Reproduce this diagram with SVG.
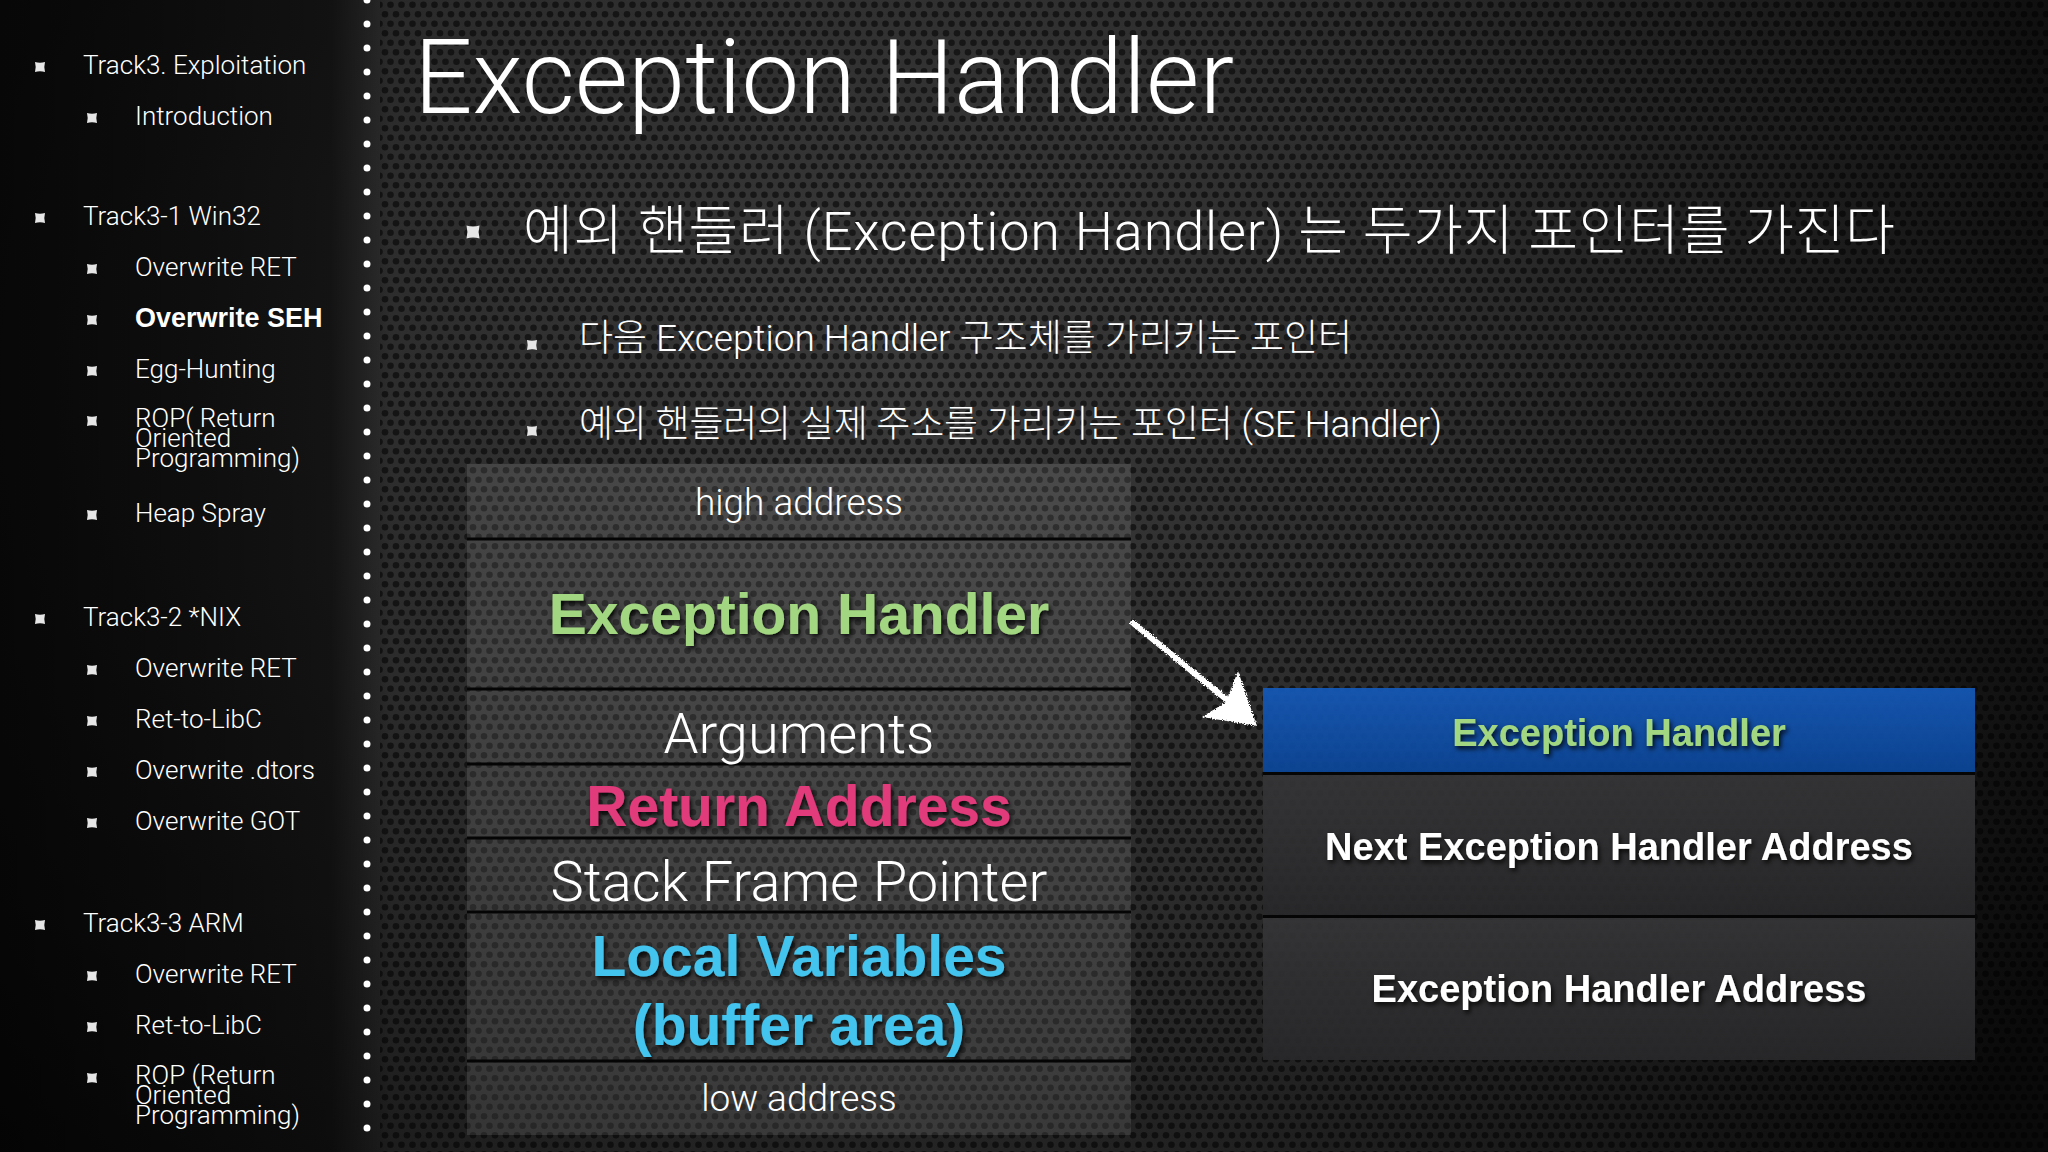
<svg xmlns="http://www.w3.org/2000/svg" width="2048" height="1152" viewBox="0 0 2048 1152">
  <defs>
    <style>
      .lt { font-family: Roboto, "Liberation Sans", "Noto Sans CJK KR", sans-serif; font-weight: 300; fill: #ffffff; }
      .bd { font-family: "Liberation Sans", Arial, "Noto Sans CJK KR", sans-serif; font-weight: 700; }
      .side { font-size: 26px; }
      .sideb { font-size: 27px; fill: #ffffff; }
      .mid { text-anchor: middle; }
      .sep { stroke: #050505; stroke-width: 3; }
      .bul { fill: #e6e6e6; }
    </style>
    <radialGradient id="bgGrad" cx="900" cy="380" r="1300" gradientUnits="userSpaceOnUse">
      <stop offset="0" stop-color="#3a3a3a"/>
      <stop offset="0.45" stop-color="#2b2b2b"/>
      <stop offset="0.8" stop-color="#181818"/>
      <stop offset="1" stop-color="#0a0a0a"/>
    </radialGradient>
    <linearGradient id="sideGrad" x1="0" y1="0" x2="1" y2="0">
      <stop offset="0" stop-color="#000" stop-opacity="0.75"/>
      <stop offset="0.85" stop-color="#000" stop-opacity="0.55"/>
      <stop offset="1" stop-color="#000" stop-opacity="0"/>
    </linearGradient>
    <pattern id="holes" width="11" height="19" patternUnits="userSpaceOnUse">
      <circle cx="5.5" cy="4.75" r="3.3" fill="#000" fill-opacity="0.55"/>
      <circle cx="0" cy="14.25" r="3.3" fill="#000" fill-opacity="0.55"/>
      <circle cx="11" cy="14.25" r="3.3" fill="#000" fill-opacity="0.55"/>
    </pattern>
    <linearGradient id="blueGrad" x1="0" y1="0" x2="0" y2="1">
      <stop offset="0" stop-color="#1559b8"/>
      <stop offset="1" stop-color="#0b4699"/>
    </linearGradient>
    <linearGradient id="darkGrad" x1="0" y1="0" x2="0" y2="1">
      <stop offset="0" stop-color="#353537"/>
      <stop offset="1" stop-color="#28282a"/>
    </linearGradient>
    <filter id="shadow" x="-10%" y="-30%" width="120%" height="160%">
      <feDropShadow dx="2" dy="3" stdDeviation="2.5" flood-color="#000" flood-opacity="0.85"/>
    </filter>
    <filter id="chalk" x="-10%" y="-10%" width="120%" height="120%">
      <feTurbulence type="fractalNoise" baseFrequency="0.9" numOctaves="2" seed="3" result="n"/>
      <feDisplacementMap in="SourceGraphic" in2="n" scale="4" xChannelSelector="R" yChannelSelector="G"/>
    </filter>
    <path id="bullet" d="M-1,-1 Q0,-0.72 1,-1 Q0.72,0 1,1 Q0,0.72 -1,1 Q-0.72,0 -1,-1 Z"/>
  </defs>

  <!-- background -->
  <rect x="0" y="0" width="2048" height="1152" fill="url(#bgGrad)"/>
  <rect x="380" y="0" width="1668" height="1152" fill="url(#holes)"/>
  <rect x="0" y="0" width="390" height="1152" fill="url(#sideGrad)"/>
  <line x1="367" y1="0" x2="367" y2="1152" stroke="#ffffff" stroke-width="7" stroke-linecap="round" stroke-dasharray="0 24"/>

  <!-- sidebar -->
  <g id="sidebar">
    <g id="side-track3"><use href="#bullet" class="bul" transform="translate(40,67) scale(5)"/><text class="lt side" x="83" y="74">Track3. Exploitation</text></g>
    <g id="side-intro"><use href="#bullet" class="bul" transform="translate(92,118) scale(5)"/><text class="lt side" x="135" y="125">Introduction</text></g>
    <g id="side-win32"><use href="#bullet" class="bul" transform="translate(40,218) scale(5)"/><text class="lt side" x="83" y="225">Track3-1 Win32</text></g>
    <g id="side-w-ret"><use href="#bullet" class="bul" transform="translate(92,269) scale(5)"/><text class="lt side" x="135" y="276">Overwrite RET</text></g>
    <g id="side-w-seh"><use href="#bullet" class="bul" transform="translate(92,320) scale(5)"/><text class="bd sideb" x="135" y="327">Overwrite SEH</text></g>
    <g id="side-w-egg"><use href="#bullet" class="bul" transform="translate(92,371) scale(5)"/><text class="lt side" x="135" y="378">Egg-Hunting</text></g>
    <g id="side-w-rop"><use href="#bullet" class="bul" transform="translate(92,421) scale(5)"/><text class="lt side" x="135" y="427">ROP( Return</text><text class="lt side" x="135" y="447">Oriented</text><text class="lt side" x="135" y="467">Programming)</text></g>
    <g id="side-w-heap"><use href="#bullet" class="bul" transform="translate(92,515) scale(5)"/><text class="lt side" x="135" y="522">Heap Spray</text></g>
    <g id="side-nix"><use href="#bullet" class="bul" transform="translate(40,619) scale(5)"/><text class="lt side" x="83" y="626">Track3-2 *NIX</text></g>
    <g id="side-n-ret"><use href="#bullet" class="bul" transform="translate(92,670) scale(5)"/><text class="lt side" x="135" y="677">Overwrite RET</text></g>
    <g id="side-n-libc"><use href="#bullet" class="bul" transform="translate(92,721) scale(5)"/><text class="lt side" x="135" y="728">Ret-to-LibC</text></g>
    <g id="side-n-dtors"><use href="#bullet" class="bul" transform="translate(92,772) scale(5)"/><text class="lt side" x="135" y="779">Overwrite .dtors</text></g>
    <g id="side-n-got"><use href="#bullet" class="bul" transform="translate(92,823) scale(5)"/><text class="lt side" x="135" y="830">Overwrite GOT</text></g>
    <g id="side-arm"><use href="#bullet" class="bul" transform="translate(40,925) scale(5)"/><text class="lt side" x="83" y="932">Track3-3 ARM</text></g>
    <g id="side-a-ret"><use href="#bullet" class="bul" transform="translate(92,976) scale(5)"/><text class="lt side" x="135" y="983">Overwrite RET</text></g>
    <g id="side-a-libc"><use href="#bullet" class="bul" transform="translate(92,1027) scale(5)"/><text class="lt side" x="135" y="1034">Ret-to-LibC</text></g>
    <g id="side-a-rop"><use href="#bullet" class="bul" transform="translate(92,1078) scale(5)"/><text class="lt side" x="135" y="1084">ROP (Return</text><text class="lt side" x="135" y="1104">Oriented</text><text class="lt side" x="135" y="1124">Programming)</text></g>
  </g>

  <!-- title -->
  <g id="title"><text class="lt" x="414" y="113" font-size="103">Exception Handler</text></g>

  <!-- bullets -->
  <g id="bullet-main"><use href="#bullet" class="bul" transform="translate(473,232) scale(6.5)"/><text class="lt" x="523" y="250" font-size="54" textLength="1372">예외 핸들러 (Exception Handler) 는 두가지 포인터를 가진다</text></g>
  <g id="bullet-sub1"><use href="#bullet" class="bul" transform="translate(532,345) scale(5)"/><text class="lt" x="579" y="351" font-size="37" textLength="773">다음 Exception Handler 구조체를 가리키는 포인터</text></g>
  <g id="bullet-sub2"><use href="#bullet" class="bul" transform="translate(532,431) scale(5)"/><text class="lt" x="579" y="437" font-size="37" textLength="863">예외 핸들러의 실제 주소를 가리키는 포인터 (SE Handler)</text></g>

  <!-- stack -->
  <g id="stack">
    <rect x="467" y="464" width="664" height="671" fill="#ffffff" fill-opacity="0.1"/>
    <line class="sep" x1="467" y1="539" x2="1131" y2="539"/>
    <line class="sep" x1="467" y1="689" x2="1131" y2="689"/>
    <line class="sep" x1="467" y1="764" x2="1131" y2="764"/>
    <line class="sep" x1="467" y1="838" x2="1131" y2="838"/>
    <line class="sep" x1="467" y1="912" x2="1131" y2="912"/>
    <line class="sep" x1="467" y1="1061" x2="1131" y2="1061"/>
    <g id="stack-high"><text class="lt mid" x="799" y="515" font-size="37">high address</text></g>
    <g id="stack-eh"><text class="bd mid" x="799" y="634" font-size="57" fill="#a2d680" filter="url(#shadow)">Exception Handler</text></g>
    <g id="stack-args"><text class="lt mid" x="799" y="753" font-size="56">Arguments</text></g>
    <g id="stack-ret"><text class="bd mid" x="799" y="826" font-size="57" fill="#e23a7b" filter="url(#shadow)">Return Address</text></g>
    <g id="stack-sfp"><text class="lt mid" x="799" y="901" font-size="56">Stack Frame Pointer</text></g>
    <g id="stack-local"><text class="bd mid" x="799" y="976" font-size="57" fill="#43c4ee" filter="url(#shadow)">Local Variables</text><text class="bd mid" x="799" y="1045" font-size="57" fill="#43c4ee" filter="url(#shadow)">(buffer area)</text></g>
    <g id="stack-low"><text class="lt mid" x="799" y="1111" font-size="37">low address</text></g>
  </g>

  <!-- SEH record -->
  <g id="seh">
    <g id="seh-head"><rect x="1263" y="688" width="712" height="84" fill="url(#blueGrad)" fill-opacity="0.93"/><text class="bd mid" x="1619" y="746" font-size="38" fill="#a2d680" filter="url(#shadow)">Exception Handler</text></g>
    <g id="seh-next"><rect x="1263" y="775" width="712" height="140" fill="url(#darkGrad)" fill-opacity="0.93"/><text class="bd mid" x="1619" y="860" font-size="38" fill="#ffffff" filter="url(#shadow)">Next Exception Handler Address</text></g>
    <g id="seh-addr"><rect x="1263" y="918" width="712" height="142" fill="url(#darkGrad)" fill-opacity="0.93"/><text class="bd mid" x="1619" y="1002" font-size="38" fill="#ffffff" filter="url(#shadow)">Exception Handler Address</text></g>
    <line class="sep" x1="1263" y1="773.5" x2="1975" y2="773.5"/>
    <line class="sep" x1="1263" y1="916.5" x2="1975" y2="916.5"/>
  </g>

  <!-- connectors -->
  <g id="connectors" filter="url(#chalk)">
    <line x1="1133" y1="623" x2="1232" y2="704" stroke="#ffffff" stroke-width="6" stroke-linecap="round"/>
    <polygon points="1238,671 1257,726 1202,717 1226,702" fill="#ffffff"/>
  </g>
</svg>
